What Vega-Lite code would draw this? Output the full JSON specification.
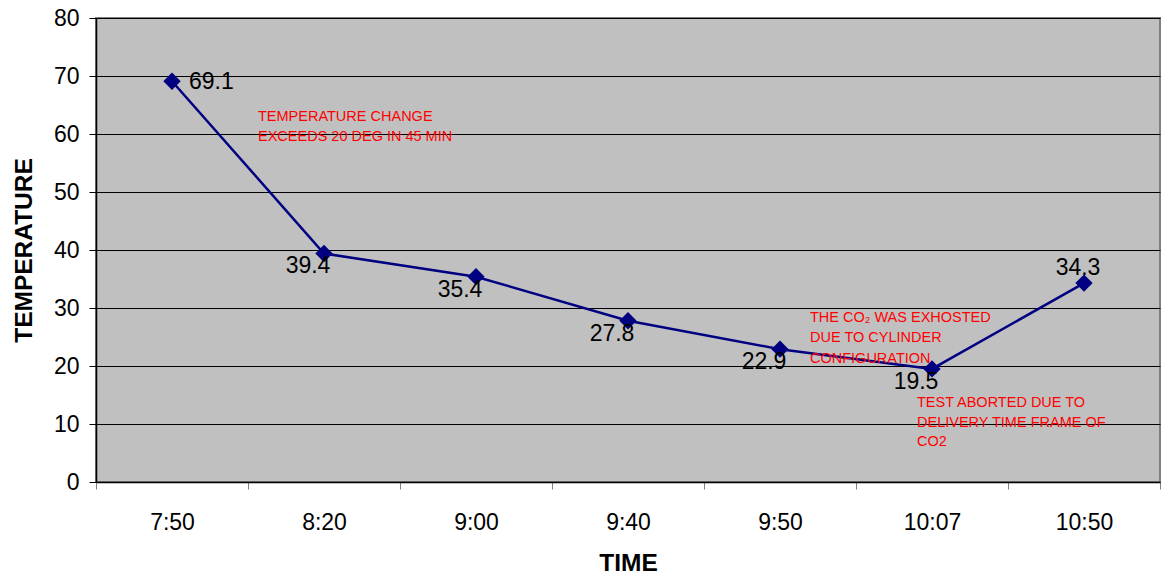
{
  "$schema": "https://vega.github.io/schema/vega-lite/v6.json",
  "width": 1064,
  "height": 464,
  "autosize": "none",
  "padding": {"left": 96, "top": 18, "right": 5, "bottom": 94},
  "background": "white",
  "datasets": {
    "readings": [
      {"time": "7:50", "temp": 69.1},
      {"time": "8:20", "temp": 39.4},
      {"time": "9:00", "temp": 35.4},
      {"time": "9:40", "temp": 27.8},
      {"time": "9:50", "temp": 22.9},
      {"time": "10:07", "temp": 19.5},
      {"time": "10:50", "temp": 34.3}
    ]
  },
  "encoding": {
    "x": {
      "field": "time",
      "type": "ordinal",
      "sort": null,
      "scale": {"type": "band", "paddingInner": 0, "paddingOuter": 0},
      "title": "TIME",
      "axis": {
        "labelAngle": 0,
        "tickBand": "extent",
        "tickSize": 7,
        "tickColor": "#808080",
        "domainColor": "#000000",
        "labelPadding": 22,
        "titlePadding": 17
      }
    },
    "y": {
      "field": "temp",
      "type": "quantitative",
      "scale": {"domain": [0, 80], "nice": false},
      "title": "TEMPERATURE",
      "axis": {
        "values": [0, 10, 20, 30, 40, 50, 60, 70, 80],
        "tickSize": 7,
        "tickColor": "#000000",
        "domainColor": "#000000",
        "grid": true,
        "gridColor": "#000000",
        "gridOpacity": 1,
        "labelPadding": 10,
        "titlePadding": 17
      }
    }
  },
  "layer": [
    {
      "data": {"name": "readings"},
      "mark": {"type": "line", "color": "#000080", "strokeWidth": 2.5}
    },
    {
      "data": {"name": "readings"},
      "mark": {"type": "point", "shape": "diamond", "filled": true, "size": 300, "color": "#000080", "opacity": 1}
    },
    {
      "data": {"name": "readings"},
      "transform": [{"filter": "datum.time != '7:50' && datum.time != '10:50'"}],
      "mark": {"type": "text", "align": "center", "baseline": "middle", "dx": -16, "dy": 13, "fontSize": 23, "font": "Liberation Sans", "color": "#000000"},
      "encoding": {"text": {"field": "temp", "type": "quantitative", "format": ".1f"}}
    },
    {
      "data": {"name": "readings"},
      "transform": [{"filter": "datum.time == '7:50'"}],
      "mark": {"type": "text", "align": "left", "baseline": "middle", "dx": 17, "dy": 1, "fontSize": 23, "font": "Liberation Sans", "color": "#000000"},
      "encoding": {"text": {"field": "temp", "type": "quantitative", "format": ".1f"}}
    },
    {
      "data": {"name": "readings"},
      "transform": [{"filter": "datum.time == '10:50'"}],
      "mark": {"type": "text", "align": "center", "baseline": "middle", "dx": -6, "dy": -15, "fontSize": 23, "font": "Liberation Sans", "color": "#000000"},
      "encoding": {"text": {"field": "temp", "type": "quantitative", "format": ".1f"}}
    },
    {
      "data": {"values": [{"time": "7:50", "temp": 64.1, "note": "TEMPERATURE CHANGE|EXCEEDS 20 DEG IN 45 MIN"}]},
      "mark": {"type": "text", "align": "left", "baseline": "top", "dx": 86, "lineBreak": "|", "lineHeight": 20, "fontSize": 14.5, "font": "Liberation Sans", "color": "#FF0000"},
      "encoding": {"text": {"field": "note", "type": "nominal"}}
    },
    {
      "data": {"values": [{"time": "9:50", "temp": 29.5, "note": "THE CO₂ WAS EXHOSTED|DUE TO CYLINDER|CONFIGURATION"}]},
      "mark": {"type": "text", "align": "left", "baseline": "top", "dx": 30, "lineBreak": "|", "lineHeight": 20.5, "fontSize": 14.5, "font": "Liberation Sans", "color": "#FF0000"},
      "encoding": {"text": {"field": "note", "type": "nominal"}}
    },
    {
      "data": {"values": [{"time": "10:07", "temp": 14.8, "note": "TEST ABORTED DUE TO|DELIVERY TIME FRAME OF|CO2"}]},
      "mark": {"type": "text", "align": "left", "baseline": "top", "dx": -15, "lineBreak": "|", "lineHeight": 19.5, "fontSize": 14.5, "font": "Liberation Sans", "color": "#FF0000"},
      "encoding": {"text": {"field": "note", "type": "nominal"}}
    }
  ],
  "config": {
    "view": {"fill": "#C0C0C0", "stroke": "#808080", "strokeWidth": 2},
    "font": "Liberation Sans",
    "axis": {
      "labelFont": "Liberation Sans",
      "labelFontSize": 23,
      "labelColor": "#000000",
      "titleFont": "Liberation Sans",
      "titleFontSize": 24.5,
      "titleFontWeight": "bold",
      "titleColor": "#000000",
      "domainWidth": 1.5,
      "gridWidth": 1
    }
  }
}
